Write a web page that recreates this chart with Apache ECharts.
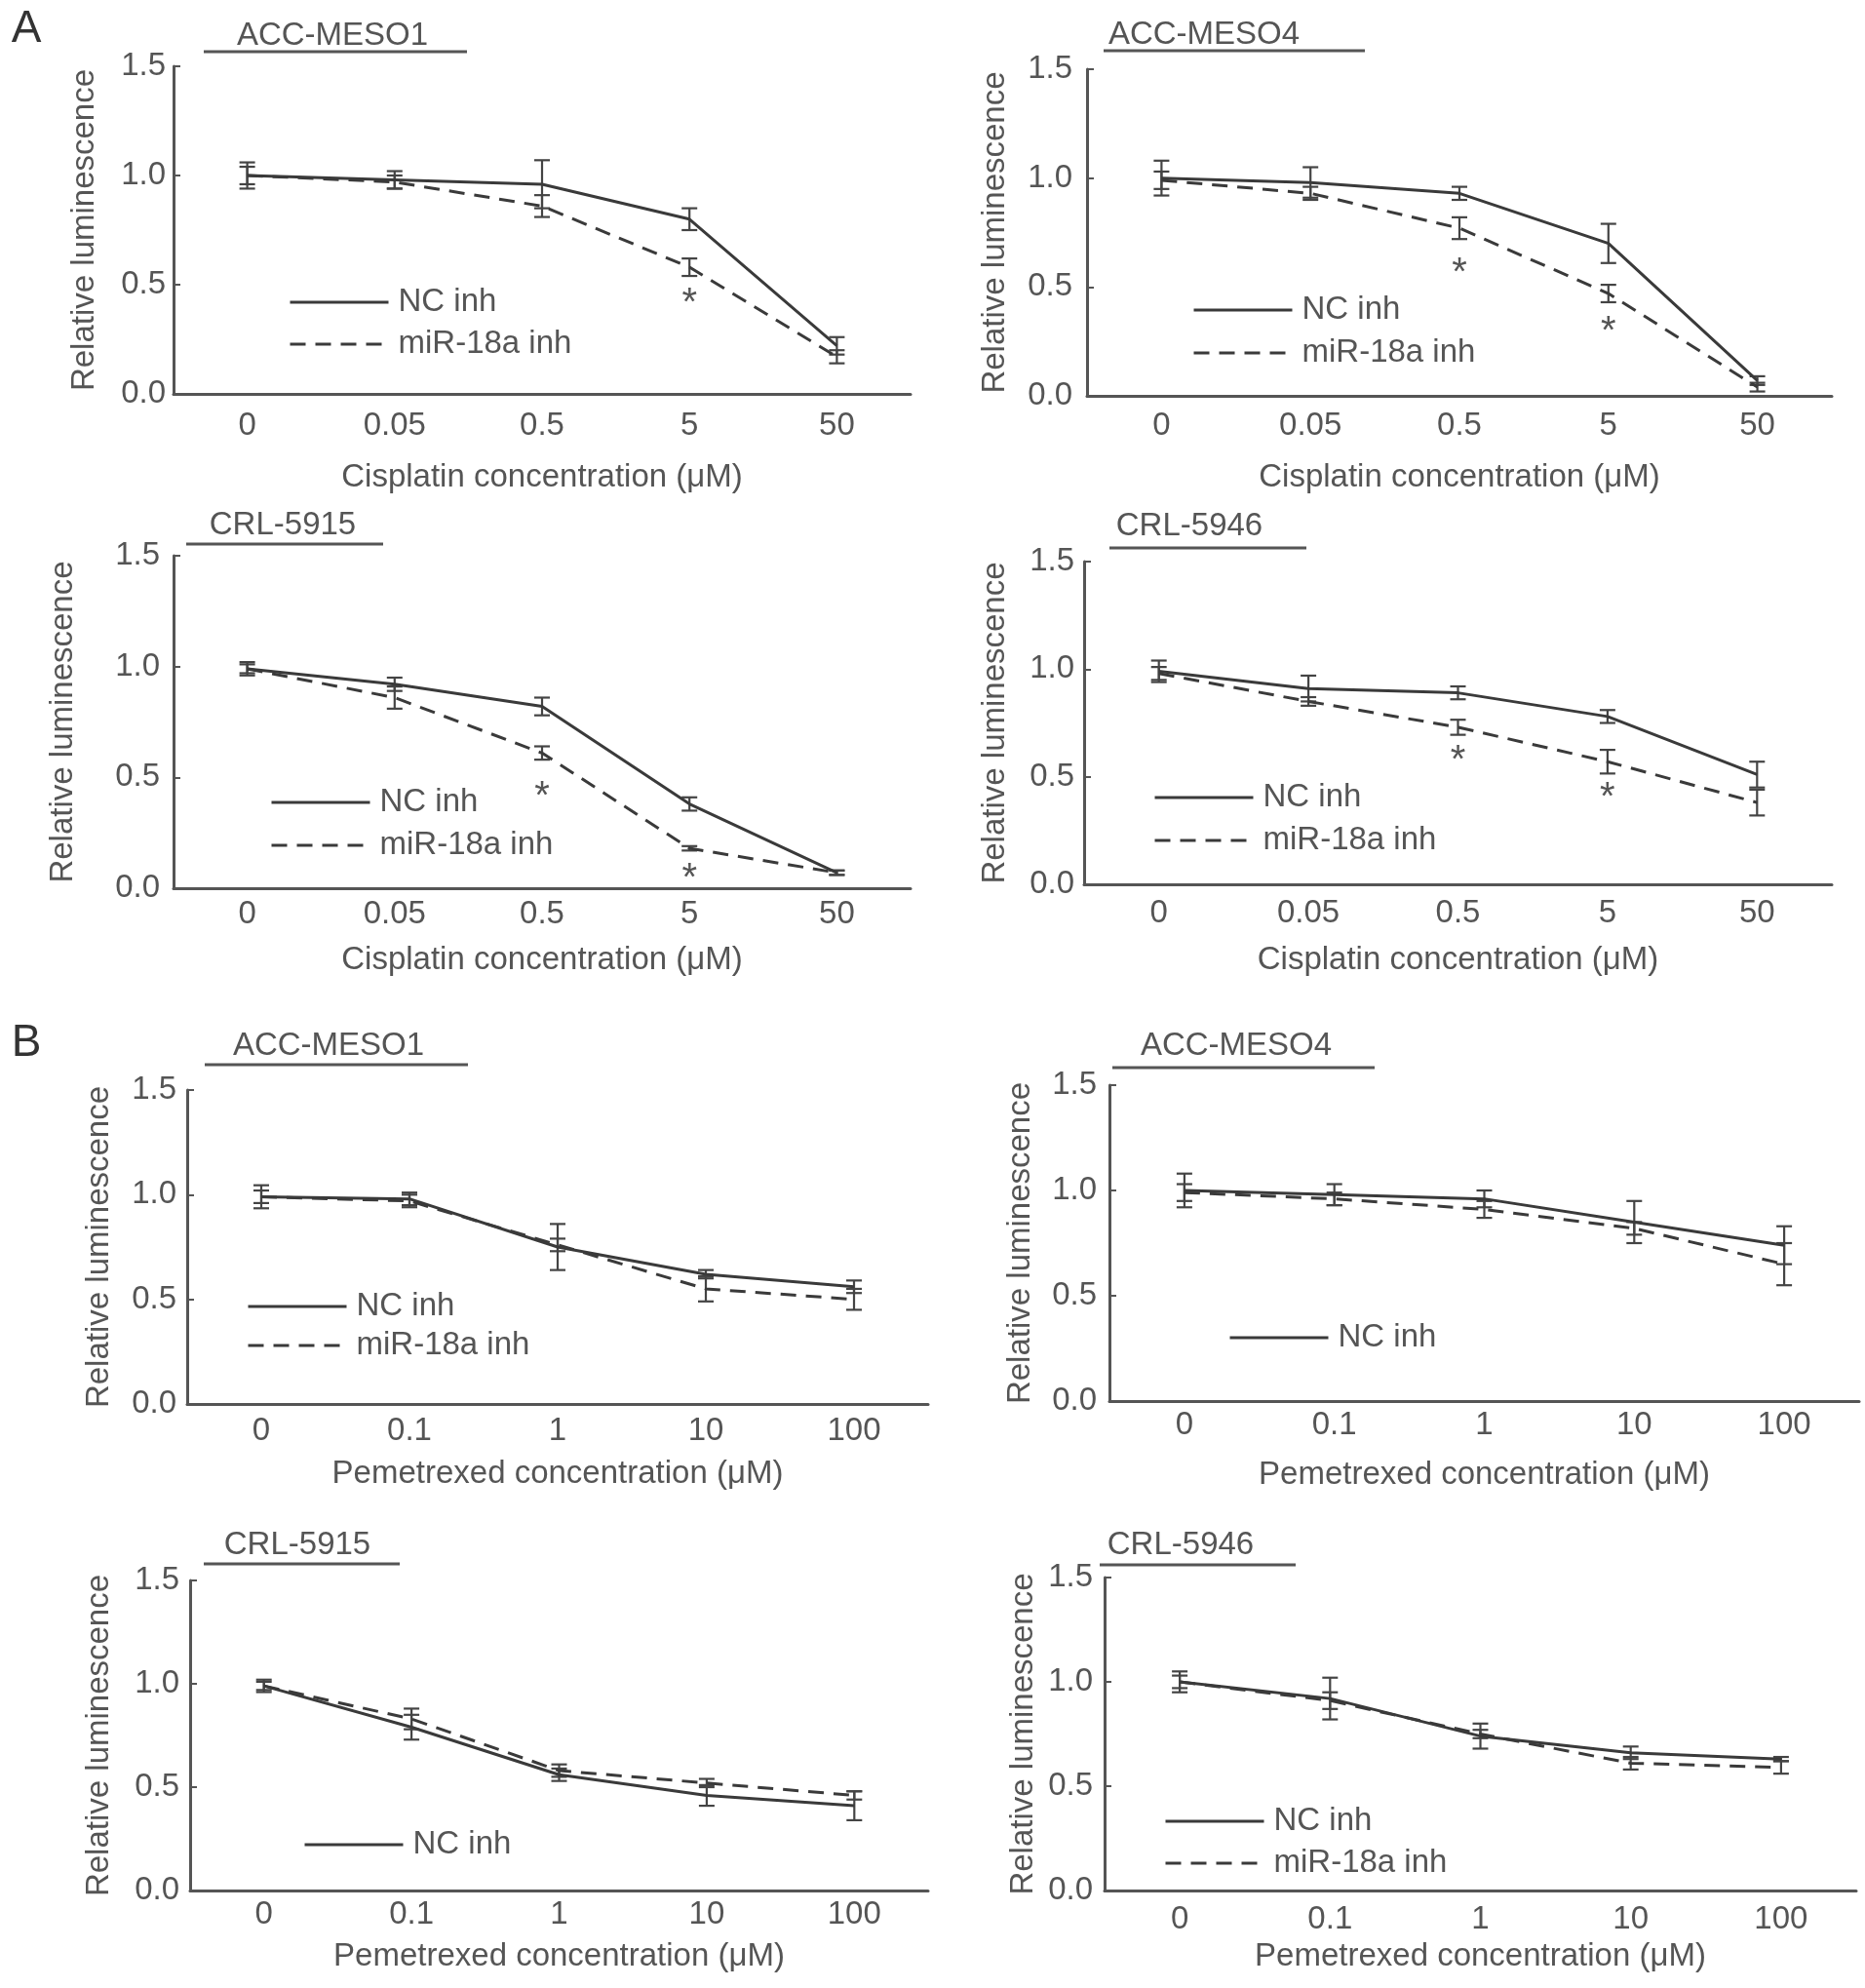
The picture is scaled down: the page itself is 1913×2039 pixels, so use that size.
<!DOCTYPE html>
<html>
<head>
<meta charset="utf-8">
<script src="https://cdn.jsdelivr.net/npm/echarts/dist/echarts.min.js"></script>
<style>
html,body{margin:0;padding:0;background:#fff;}
#chart{width:1913px;height:2039px;}
</style>
</head>
<body>
<div id="chart"></div>
<script>
// ---------- data ----------
const cisplatinDoses = ['0', '0.05', '0.5', '5', '50'];
const pemetrexedDoses = ['0', '0.1', '1', '10', '100'];
const yMin = 0, yMax = 1.5, yStep = 0.5;
const seriesNames = ['NC inh', 'miR-18a inh'];

// A: cisplatin
const cisMeso1NC = [1.00, 0.98, 0.96, 0.80, 0.22];
const cisMeso1NCErr = [0.06, 0.04, 0.11, 0.05, 0.04];
const cisMeso1Mir = [1.00, 0.97, 0.86, 0.58, 0.17];
const cisMeso1MirErr = [0.04, 0.03, 0.05, 0.04, 0.03];
const cisMeso1Sig = [[3, 0.45]];

const cisMeso4NC = [1.00, 0.98, 0.93, 0.70, 0.07];
const cisMeso4NCErr = [0.08, 0.07, 0.03, 0.09, 0.02];
const cisMeso4Mir = [0.99, 0.93, 0.77, 0.47, 0.04];
const cisMeso4MirErr = [0.04, 0.03, 0.05, 0.04, 0.02];
const cisMeso4Sig = [[2, 0.60], [3, 0.33]];

const cis5915NC = [0.99, 0.92, 0.82, 0.38, 0.07];
const cis5915NCErr = [0.03, 0.03, 0.04, 0.03, 0.01];
const cis5915Mir = [0.99, 0.86, 0.61, 0.18, 0.07];
const cis5915MirErr = [0.02, 0.05, 0.03, 0.01, 0.01];
const cis5915Sig = [[2, 0.45], [3, 0.08]];

const cis5946NC = [0.99, 0.91, 0.89, 0.78, 0.51];
const cis5946NCErr = [0.05, 0.06, 0.03, 0.03, 0.06];
const cis5946Mir = [0.98, 0.85, 0.73, 0.57, 0.38];
const cis5946MirErr = [0.03, 0.02, 0.035, 0.055, 0.06];
const cis5946Sig = [[2, 0.61], [3, 0.44]];

// B: pemetrexed
const pemMeso1NC = [0.99, 0.98, 0.75, 0.62, 0.56];
const pemMeso1NCErr = [0.055, 0.03, 0.11, 0.02, 0.03];
const pemMeso1Mir = [0.99, 0.97, 0.76, 0.55, 0.50];
const pemMeso1MirErr = [0.03, 0.03, 0.03, 0.06, 0.05];

const pemMeso4NC = [1.00, 0.98, 0.96, 0.85, 0.74];
const pemMeso4NCErr = [0.08, 0.05, 0.04, 0.10, 0.09];
const pemMeso4Mir = [0.99, 0.96, 0.91, 0.82, 0.65];
const pemMeso4MirErr = [0.04, 0.03, 0.04, 0.03, 0.10];

const pem5915NC = [0.99, 0.79, 0.56, 0.46, 0.41];
const pem5915NCErr = [0.03, 0.06, 0.03, 0.05, 0.07];
const pem5915Mir = [0.99, 0.83, 0.58, 0.52, 0.46];
const pem5915MirErr = [0.02, 0.05, 0.03, 0.02, 0.02];

const pem5946NC = [1.00, 0.92, 0.74, 0.66, 0.63];
const pem5946NCErr = [0.05, 0.10, 0.06, 0.03, 0.01];
const pem5946Mir = [1.00, 0.91, 0.75, 0.61, 0.59];
const pem5946MirErr = [0.03, 0.04, 0.02, 0.03, 0.03];

const panelLetters = ['A', 'B'];
const cisTitle = 'Cisplatin concentration (μM)';
const pemTitle = 'Pemetrexed concentration (μM)';
const yTitle = 'Relative luminescence';

// ---------- panels ----------
const panels = [
  {name:'ACC-MESO1', cats:cisplatinDoses, xName:cisTitle, nc:cisMeso1NC, ncErr:cisMeso1NCErr, mir:cisMeso1Mir, mirErr:cisMeso1MirErr, sig:cisMeso1Sig, legend:seriesNames},
  {name:'ACC-MESO4', cats:cisplatinDoses, xName:cisTitle, nc:cisMeso4NC, ncErr:cisMeso4NCErr, mir:cisMeso4Mir, mirErr:cisMeso4MirErr, sig:cisMeso4Sig, legend:seriesNames},
  {name:'CRL-5915', cats:cisplatinDoses, xName:cisTitle, nc:cis5915NC, ncErr:cis5915NCErr, mir:cis5915Mir, mirErr:cis5915MirErr, sig:cis5915Sig, legend:seriesNames},
  {name:'CRL-5946', cats:cisplatinDoses, xName:cisTitle, nc:cis5946NC, ncErr:cis5946NCErr, mir:cis5946Mir, mirErr:cis5946MirErr, sig:cis5946Sig, legend:seriesNames},
  {name:'ACC-MESO1', cats:pemetrexedDoses, xName:pemTitle, nc:pemMeso1NC, ncErr:pemMeso1NCErr, mir:pemMeso1Mir, mirErr:pemMeso1MirErr, sig:[], legend:seriesNames},
  {name:'ACC-MESO4', cats:pemetrexedDoses, xName:pemTitle, nc:pemMeso4NC, ncErr:pemMeso4NCErr, mir:pemMeso4Mir, mirErr:pemMeso4MirErr, sig:[], legend:[seriesNames[0]]},
  {name:'CRL-5915', cats:pemetrexedDoses, xName:pemTitle, nc:pem5915NC, ncErr:pem5915NCErr, mir:pem5915Mir, mirErr:pem5915MirErr, sig:[], legend:[seriesNames[0]]},
  {name:'CRL-5946', cats:pemetrexedDoses, xName:pemTitle, nc:pem5946NC, ncErr:pem5946NCErr, mir:pem5946Mir, mirErr:pem5946MirErr, sig:[], legend:seriesNames}
];

// layout (pixels)
const layouts = [
  {grid:[178, 68, 756, 336],  title:[341, 37],   uline:[209, 479, 53],   legend:[291, 305, 43],  xLab:33, xName:86, yName:91, yLab:8},
  {grid:[1115, 71, 764, 335], title:[1235, 36],  uline:[1132, 1400, 52], legend:[1218, 313, 44], xLab:31, xName:84, yName:94, yLab:15},
  {grid:[178, 570, 756, 341], title:[290, 539],  uline:[191, 393, 558],  legend:[272, 818, 44],  xLab:27, xName:74, yName:113, yLab:14},
  {grid:[1112, 576, 767, 331],title:[1220, 540], uline:[1138, 1340, 562],legend:[1178, 813, 44], xLab:30, xName:78, yName:91, yLab:10},
  {grid:[192, 1118, 760, 322],title:[337, 1073], uline:[210, 480, 1092], legend:[248, 1335, 40], xLab:28, xName:72, yName:90, yLab:11},
  {grid:[1138, 1113, 769, 324],title:[1268, 1073],uline:[1141, 1410, 1095],legend:[1255, 1367, 40],xLab:25, xName:76, yName:91, yLab:13},
  {grid:[195, 1621, 757, 318],title:[305, 1585], uline:[209, 410, 1604], legend:[306, 1887, 40], xLab:25, xName:68, yName:93, yLab:11},
  {grid:[1133, 1618, 771, 321],title:[1211, 1585],uline:[1128, 1329, 1605],legend:[1189, 1863, 43],xLab:30, xName:68, yName:83, yLab:12}
];
const letterPos = [[27, 30], [27, 1070]];

// ---------- styles ----------
const FONT = 'Liberation Sans, Helvetica, Arial, sans-serif';
const TXT = '#555';
const LINE = '#3a3a3a';
const FS = 33;
const HALF = FS / 2;
const CLEAR = 'rgba(0,0,0,0)';

function errRender(params, api) {
  const i = api.value(0), m = api.value(1), e = api.value(2);
  const top = api.coord([i, m + e]);
  const bot = api.coord([i, m - e]);
  const w = 8;
  const st = {stroke: '#444', lineWidth: 2.2};
  return {type: 'group', children: [
    {type: 'line', shape: {x1: top[0], y1: top[1], x2: bot[0], y2: bot[1]}, style: st},
    {type: 'line', shape: {x1: top[0] - w, y1: top[1], x2: top[0] + w, y2: top[1]}, style: st},
    {type: 'line', shape: {x1: bot[0] - w, y1: bot[1], x2: bot[0] + w, y2: bot[1]}, style: st}
  ]};
}
function sigRender(params, api) {
  const p = api.coord([api.value(0), api.value(1)]);
  return {type: 'text', x: p[0], y: p[1] + 9,
    style: {text: '*', fontSize: 40, fontFamily: FONT, fill: TXT, align: 'center', verticalAlign: 'middle'}};
}

const grid = [], xAxis = [], yAxis = [], series = [], legend = [], graphic = [];

panels.forEach((p, k) => {
  const L = layouts[k];
  grid.push({left: L.grid[0], top: L.grid[1], width: L.grid[2], height: L.grid[3], containLabel: false});
  xAxis.push({
    type: 'category', gridIndex: k, data: p.cats, boundaryGap: true,
    axisLine: {lineStyle: {color: '#555', width: 3}},
    axisTick: {show: false},
    axisLabel: {color: TXT, fontSize: FS, fontFamily: FONT, margin: L.xLab - HALF, lineHeight: FS, interval: 0},
    name: p.xName, nameLocation: 'middle', nameGap: L.xName - HALF,
    nameTextStyle: {color: TXT, fontSize: FS, fontFamily: FONT, lineHeight: FS},
    splitLine: {show: false}
  });
  yAxis.push({
    type: 'value', gridIndex: k, min: yMin, max: yMax, interval: yStep,
    axisLine: {show: true, lineStyle: {color: '#555', width: 3}},
    axisTick: {show: true, inside: true, length: 7, lineStyle: {color: '#555', width: 2}},
    axisLabel: {color: TXT, fontSize: FS, fontFamily: FONT, margin: L.yLab, formatter: v => v.toFixed(1)},
    name: yTitle, nameLocation: 'middle', nameGap: L.yName - HALF,
    nameTextStyle: {color: TXT, fontSize: FS, fontFamily: FONT, lineHeight: FS},
    splitLine: {show: false}
  });
  series.push({
    type: 'line', name: seriesNames[0], xAxisIndex: k, yAxisIndex: k, data: p.nc,
    symbol: 'none', lineStyle: {color: LINE, width: 3}, itemStyle: {color: CLEAR, borderWidth: 0}, z: 3, silent: true
  });
  series.push({
    type: 'line', name: seriesNames[1], xAxisIndex: k, yAxisIndex: k, data: p.mir,
    symbol: 'none', lineStyle: {color: LINE, width: 3, type: [16, 10]}, itemStyle: {color: CLEAR, borderWidth: 0}, z: 3, silent: true
  });
  series.push({
    type: 'custom', name: 'err-nc-' + k, xAxisIndex: k, yAxisIndex: k, renderItem: errRender,
    data: p.cats.map((c, i) => [i, p.nc[i], p.ncErr[i]]), encode: {x: 0, y: 1}, z: 2, silent: true
  });
  series.push({
    type: 'custom', name: 'err-mir-' + k, xAxisIndex: k, yAxisIndex: k, renderItem: errRender,
    data: p.cats.map((c, i) => [i, p.mir[i], p.mirErr[i]]), encode: {x: 0, y: 1}, z: 2, silent: true
  });
  if (p.sig.length) {
    series.push({
      type: 'custom', name: 'sig-' + k, xAxisIndex: k, yAxisIndex: k, renderItem: sigRender,
      data: p.sig, encode: {x: 0, y: 1}, z: 4, silent: true
    });
  }
  legend.push({
    data: p.legend, orient: 'vertical', left: L.legend[0], top: L.legend[1] - HALF,
    itemWidth: 101, itemHeight: 14, itemGap: L.legend[2] - FS, selectedMode: false,
    itemStyle: {color: CLEAR, borderWidth: 0, opacity: 0},
    lineStyle: {color: LINE, width: 3},
    textStyle: {color: TXT, fontSize: FS, fontFamily: FONT, lineHeight: FS, padding: [0, 0, 0, 5]}
  });
  graphic.push({type: 'text', x: L.title[0], y: L.title[1],
    style: {text: p.name, fontSize: FS, fontFamily: FONT, fill: TXT, align: 'center', verticalAlign: 'middle'}});
  graphic.push({type: 'line', shape: {x1: L.uline[0], y1: L.uline[2], x2: L.uline[1], y2: L.uline[2]},
    style: {stroke: '#555', lineWidth: 3}});
});
panelLetters.forEach((t, i) => {
  graphic.push({type: 'text', x: letterPos[i][0], y: letterPos[i][1],
    style: {text: t, fontSize: 46, fontFamily: FONT, fill: '#333', align: 'center', verticalAlign: 'middle'}});
});

const chart = echarts.init(document.getElementById('chart'), null, {renderer: 'canvas'});
chart.setOption({
  backgroundColor: '#ffffff',
  animation: false,
  grid, xAxis, yAxis, series, legend, graphic
});
</script>
</body>
</html>
